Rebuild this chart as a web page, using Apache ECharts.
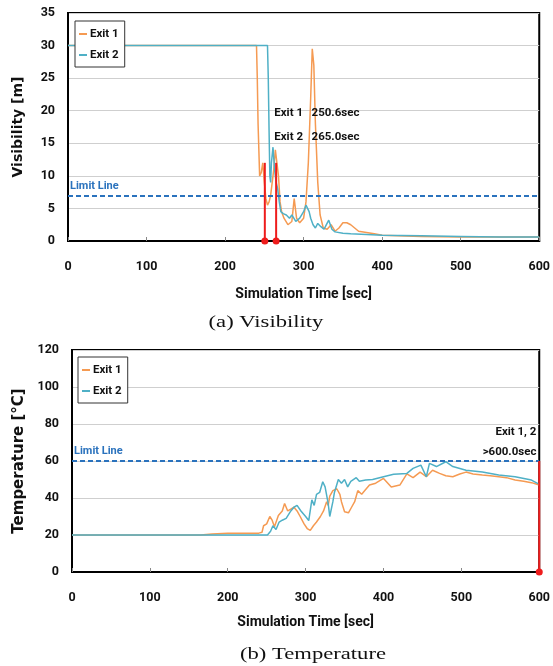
<!DOCTYPE html>
<html><head><meta charset="utf-8">
<script src="https://cdn.jsdelivr.net/npm/echarts@6/dist/echarts.min.js"></script>
<style>html,body{margin:0;padding:0;background:#fff}#c{width:553px;height:666px}</style>
</head><body><div id="c"></div>
<script>
// ---------- DATA ----------
const xTicks = [0, 100, 200, 300, 400, 500, 600];
// (a) Visibility
const visT1 = [0,240,241,242,244,246,248,250,252,254,256,258,260,262,264,266,268,270,272,275,280,285,288,291,295,300,303,306,309,311,313,315,318,321,325,330,335,340,345,350,355,360,365,370,380,390,400,420,450,500,550,600];
const visExit1 = [30,30,25,18,10,10.5,12,9,6.5,5.5,6,7,9,11,14,14.2,10,6,4.5,3.5,2.5,3,6.5,3.5,2.8,3.5,6,12,22,29.5,27,18,9,4,2,1.8,2.5,1.5,2,2.8,2.8,2.5,2,1.5,1.3,1.1,0.9,0.8,0.7,0.6,0.6,0.6];
const visT2 = [0,254,255,256,257,258,259,261,263,265,267,269,271,274,278,282,285,290,295,300,303,305,307,309,312,315,318,322,326,329,332,336,340,350,360,380,400,450,500,550,600];
const visExit2 = [30,30,25,17,10,9,12,14.4,11,9,8,6,4.5,4.2,4,3.5,4,3,3.5,4.5,5.5,5.7,4.5,3.5,2.5,2,2.7,2.2,1.8,2.5,3.2,1.8,1.4,1.2,1.1,1.0,0.9,0.8,0.7,0.6,0.6];
const visLimit = 7;
const visExitTimes = [250.6, 265.0];
const visMarkerTop = 12;
const visNotes = ['Exit 1   250.6sec', 'Exit 2   265.0sec'];
// (b) Temperature
const tempT1 = [0,165,180,200,220,240,244,246,250,254,257,260,265,270,273,277,281,285,289,293,298,302,306,310,314,319,323,327,329,331,335,340,344,346,350,355,359,363,367,372,376,382,390,400,410,421,430,438,447,455,463,472,480,489,498,506,515,527,537,548,558,569,580,590,600];
const tempExit1 = [20,20,20.5,21,21,21,21.5,25,26,30,28,24.5,30.5,33,37,33,34,35,33,30,26,23.5,22.5,25,27,30,33,38,36,41,44,45,42,38,32.6,32,35,38,44,42,44,47,48,50.6,46,47,53,51,54,51.5,55,53.3,52,51.5,53,54,53,52.4,52,51.5,51,49.7,49,48.3,47];
const tempT2 = [0,251,255,258,262,266,270,275,281,285,289,294,300,304,308,311,314,318,322,325,329,331,335,337,342,346,350,354,358,365,369,377,386,400,413,430,438,448,455,459,468,480,489,506,527,548,569,590,599,600];
const tempExit2 = [20,20,22,25,23,27,28,29,33,35,36,33,30,27.8,39,36,42,43,48.8,46,37,30,38,43,50,48,50,46,49,51,49,49.7,50,51.5,52.8,53.3,56,57.8,51.5,58.7,57,59.6,57,55,54,52.4,51.5,49.7,47.6,48];
const tempLimit = 60;
const tempExitTime = 600;
const tempNotes = ['Exit 1, 2', '>600.0sec'];
const captions = ['(a) Visibility', '(b) Temperature'];

// ---------- CHART ----------
const FONT = "Roboto,'Liberation Sans',sans-serif";
const YFONT = "'DejaVu Sans','Liberation Sans',sans-serif";
const SERIF = "'Liberation Serif','DejaVu Serif',serif";
const ORANGE = '#f59a52', BLUE = '#4fb0c6', LIMIT = '#2a72bd', RED = '#ee1c1c';
const zip = (a, b) => a.map((v, i) => [v, b[i]]);
const chart = echarts.init(document.getElementById('c'), null, {renderer: 'canvas'});

function xAxis(gi) {
  return {
    type: 'value', gridIndex: gi, min: xTicks[0], max: xTicks[xTicks.length - 1], interval: 100,
    name: 'Simulation Time [sec]', nameLocation: 'middle', nameGap: gi === 0 ? 46 : 43,
    nameTextStyle: {fontFamily: FONT, fontSize: 14, fontWeight: 'bold', color: '#111'},
    axisLine: {show: true, lineStyle: {color: '#000', width: 2}},
    axisTick: {show: true, inside: true, length: 4, lineStyle: {color: '#888'}},
    axisLabel: {margin: 19, fontFamily: FONT, fontSize: 12.5, fontWeight: 'bold', color: '#111'},
    splitLine: {show: false}
  };
}
function yAxis(gi, max, interval, name, gap, size) {
  return {
    type: 'value', gridIndex: gi, min: 0, max: max, interval: interval,
    name: name, nameLocation: 'middle', nameGap: gap, nameRotate: 90,
    nameTextStyle: {fontFamily: YFONT, fontSize: size, fontWeight: 'bold', color: '#111'},
    axisLine: {show: true, lineStyle: {color: '#000', width: 2}},
    axisTick: {show: false},
    axisLabel: {margin: 13, fontFamily: FONT, fontSize: 12.5, fontWeight: 'bold', color: '#111'},
    splitLine: {show: true, lineStyle: {color: '#cfcfcf', width: 1}}
  };
}
function dataLine(name, gi, data, color) {
  return {
    name: name, type: 'line', xAxisIndex: gi, yAxisIndex: gi, data: data,
    showSymbol: false, symbol: 'none', lineStyle: {color: color, width: 1.5}, itemStyle: {color: color},
    silent: true, animation: false, z: 3
  };
}
function limitSeries(gi, val) {
  return {
    type: 'line', xAxisIndex: gi, yAxisIndex: gi, data: [], silent: true, animation: false,
    markLine: {
      symbol: 'none', silent: true, animation: false,
      lineStyle: {color: LIMIT, width: 2.2, type: [5, 3]},
      label: {show: true, position: 'insideStartTop', formatter: 'Limit Line', distance: [2, 4],
        fontFamily: FONT, fontSize: 11, fontWeight: 'bold', color: LIMIT},
      data: [{yAxis: val}]
    }, z: 4
  };
}
function redMarker(gi, t, top) {
  return {
    type: 'line', xAxisIndex: gi, yAxisIndex: gi, silent: true, animation: false,
    data: [{value: [t, 0], symbolSize: 7}, {value: [t, top], symbolSize: 0}],
    symbol: 'circle', showSymbol: true, showAllSymbol: true,
    lineStyle: {color: RED, width: 2}, itemStyle: {color: RED}, z: 6
  };
}
function noteSeries(gi, pts, texts, pos) {
  return {
    type: 'scatter', xAxisIndex: gi, yAxisIndex: gi, symbolSize: 1, silent: true, animation: false,
    itemStyle: {color: 'rgba(0,0,0,0)'},
    data: pts.map((p, i) => ({value: p, label: {formatter: texts[i]}})),
    label: {show: true, position: pos, distance: 0, opacity: 1,
      fontFamily: FONT, fontSize: 11.5, fontWeight: 'bold', color: '#111'}, z: 7
  };
}

const legendCommon = {
  orient: 'vertical', data: ['Exit 1', 'Exit 2'], icon: 'rect', itemWidth: 8, itemHeight: 2, itemGap: 9,
  borderColor: '#333', borderWidth: 1, padding: [7, 6, 6, 4], backgroundColor: '#fff',
  textStyle: {fontFamily: FONT, fontSize: 11.5, fontWeight: 'bold', color: '#111', padding: [0, 0, 0, -2]}
};

const option = {
  animation: false,
  grid: [
    {left: 68, top: 13, width: 477, height: 228, show: true, borderColor: '#000', borderWidth: 2, backgroundColor: '#fff'},
    {left: 72, top: 350, width: 472, height: 222, show: true, borderColor: '#000', borderWidth: 2, backgroundColor: '#fff'}
  ],
  xAxis: [xAxis(0), xAxis(1)],
  yAxis: [yAxis(0, 35, 5, 'Visibility [m]', 43, 14), yAxis(1, 120, 20, 'Temperature [°C]', 43, 15)],
  legend: [
    Object.assign({}, legendCommon, {left: 75, top: 21}),
    Object.assign({}, legendCommon, {left: 78, top: 357})
  ],
  graphic: [
    {type: 'text', x: 266, y: 323, scaleX: 1.33, silent: true,
      style: {text: captions[0], font: '17px ' + SERIF, fill: '#111', align: 'center', verticalAlign: 'middle'}},
    {type: 'text', x: 313, y: 655, scaleX: 1.33, silent: true,
      style: {text: captions[1], font: '17px ' + SERIF, fill: '#111', align: 'center', verticalAlign: 'middle'}}
  ],
  series: [
    dataLine('Exit 1', 0, zip(visT1, visExit1), ORANGE),
    dataLine('Exit 2', 0, zip(visT2, visExit2), BLUE),
    limitSeries(0, visLimit),
    redMarker(0, visExitTimes[0], visMarkerTop),
    redMarker(0, visExitTimes[1], visMarkerTop),
    noteSeries(0, [[262, 19.6], [262, 15.9]], visNotes, 'right'),
    dataLine('Exit 1', 1, zip(tempT1, tempExit1), ORANGE),
    dataLine('Exit 2', 1, zip(tempT2, tempExit2), BLUE),
    limitSeries(1, tempLimit),
    redMarker(1, tempExitTime, tempLimit),
    noteSeries(1, [[597, 75.7], [597, 64.9]], tempNotes, 'left')
  ]
};
chart.setOption(option);
</script></body></html>
